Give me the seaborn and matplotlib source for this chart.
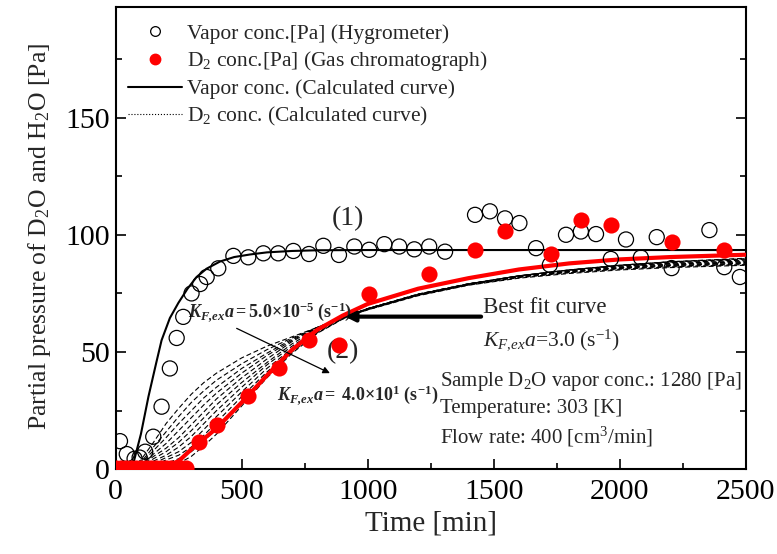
import matplotlib
matplotlib.use("Agg")
import matplotlib.pyplot as plt
from matplotlib.lines import Line2D
from matplotlib.ticker import MultipleLocator
import seaborn as sns

# Measured vapor concentration (hygrometer) [min], [Pa]
vapor_t = [17, 44, 75, 95, 117, 149, 182, 215, 242, 268, 301, 335, 361, 407, 467,
           526, 586, 645, 705, 767, 824, 886, 947, 1006, 1066, 1125, 1185, 1244,
           1307, 1426, 1485, 1545, 1602, 1668, 1723, 1787, 1846, 1906, 1965, 2025,
           2084, 2147, 2206, 2356, 2415, 2477]
vapor_p = [12, 6.5, 4.5, 5, 7.5, 13.9, 26.7, 43, 56, 65, 75, 79, 82, 85.7, 91,
           90.4, 92.1, 92.1, 93.1, 91.8, 95.3, 91.4, 95, 93.6, 96, 95, 93.8, 95,
           92.8, 108.5, 110, 107, 105, 94.3, 87.2, 100, 101.4, 100.3, 89.7, 98,
           90.3, 99, 85.8, 102, 86.2, 82]

# Measured D2 concentration (gas chromatograph) [min], [Pa]
d2_t = [0, 20, 40, 60, 80, 100, 120, 140, 160, 180, 200, 220, 240, 260, 280,
        332, 403, 526, 648, 768, 887, 1006, 1244, 1426, 1545, 1727, 1846, 1965,
        2206, 2415]
d2_p = [0.5, 0.5, 0.5, 0.5, 0.5, 0.5, 0.5, 0.5, 0.5, 0.5, 0.5, 0.5, 0.5, 0.5, 0.5,
        11.8, 18.9, 31.3, 43, 55.2, 53, 74.8, 83.3, 93.6, 101.7, 91.8, 106.4, 104,
        97.1, 93.6]

# Calculated vapor concentration
calc_vapor_t = [0, 60, 70, 100, 130, 160, 182, 215, 249, 285, 321, 360, 414, 470,
                533, 600, 700, 800, 1000, 2500]
calc_vapor_p = [0, 0, 2.5, 15, 31, 45, 55, 64.5, 71, 77, 82, 85.5, 88.6, 90.5,
                91.6, 92.5, 93.1, 93.4, 93.5, 93.5]

# Calculated D2 concentration curves, K_F,ex a from 5.0e-5 to 4.0e1 (s^-1)
calc_d2_t = [0, 50, 100, 150, 200, 250, 300, 350, 400, 500, 600, 700, 800, 900,
             1000, 1200, 1400, 1600, 1800, 2000, 2200, 2500]
d2_k01 = [0, 0, 4, 11.5, 19.5, 26, 32, 37, 41, 47.5, 52.5, 56.5, 60.5, 64.5, 68, 74, 78.5, 81.5, 83.5, 85, 86, 87]
d2_k02 = [0, 0, 3, 9.5, 16, 22.5, 28.5, 33.5, 38, 45, 51, 56, 60.5, 64.5, 68, 74.2, 78.6, 81.7, 83.8, 85.3, 86.3, 87.3]
d2_k03 = [0, 0, 2.5, 8, 13.5, 19.5, 25, 30.5, 35, 43, 49.5, 55.5, 60.5, 64.7, 68.2, 74.3, 78.7, 81.9, 84, 85.6, 86.6, 87.6]
d2_k04 = [0, 0, 2, 6.5, 11, 16.5, 22, 27.5, 32.5, 41, 48.5, 55, 60.5, 64.8, 68.3, 74.4, 78.8, 82, 84.2, 85.8, 86.9, 87.9]
d2_k05 = [0, 0, 1.5, 5.5, 9, 13.5, 19, 24.5, 30, 39, 47, 54.5, 60.3, 64.8, 68.4, 74.5, 78.9, 82.2, 84.4, 86, 87.2, 88.2]
d2_k06 = [0, 0, 1, 4.5, 7.5, 11.5, 16.5, 22, 27.5, 37, 45.5, 53.5, 60, 64.8, 68.5, 74.6, 79, 82.3, 84.6, 86.3, 87.5, 88.5]
d2_k07 = [0, 0, 0.8, 3.5, 6, 9.5, 14, 19.5, 25, 35, 44.5, 52.5, 59.5, 64.7, 68.5, 74.7, 79.1, 82.4, 84.8, 86.6, 87.8, 88.8]
d2_k08 = [0, 0, 0.5, 2.5, 5, 7.5, 11.5, 17, 22.5, 33, 43, 51.5, 59, 64.5, 68.5, 74.7, 79.1, 82.5, 85, 86.8, 88.1, 89.2]
d2_k09 = [0, 0, 0.3, 1.5, 4, 6, 9.5, 14.5, 20, 31, 41.5, 50.5, 58.5, 64.3, 68.5, 74.6, 79.1, 82.5, 85, 87, 88.4, 89.6]
d2_k10 = [0, 0, 0.2, 1, 2.5, 4.5, 7.5, 12, 17.5, 29, 40, 50, 58.2, 64.1, 68.5, 74.5, 79, 82.5, 85, 87, 88.5, 89.8]
d2_k11 = [0, 0, 0, 0.3, 1, 2.5, 5.5, 10, 15, 27, 39, 49.5, 58, 64, 68.5, 74.5, 79, 82.5, 85, 87, 88.5, 90]
# Best fit, K_F,ex a = 3.0 (s^-1)
d2_best = [0, 0, 0, 0, 1, 3.5, 8.5, 13, 17.5, 28.5, 40, 51, 59.5, 65.5, 70.5, 77, 81.5, 85.2, 87.8, 89.5, 90.5, 91.5]

d2_family = [d2_k01, d2_k02, d2_k03, d2_k04, d2_k05, d2_k06,
             d2_k07, d2_k08, d2_k09, d2_k10, d2_k11]

sns.set_theme(style="ticks")
serif = ["Liberation Serif", "DejaVu Serif"]
plt.rcParams["font.family"] = serif
plt.rcParams.update({
    "mathtext.fontset": "custom",
    "mathtext.rm": "Liberation Serif",
    "mathtext.it": "Liberation Serif:italic",
    "mathtext.bf": "Liberation Serif:bold",
    "mathtext.bfit": "Liberation Serif:italic:bold",
    "axes.linewidth": 1.5,
    "axes.edgecolor": "black",
})

fig = plt.figure(figsize=(7.77, 5.54), dpi=100)
ax = fig.add_axes([0.1489, 0.1529, 0.8108, 0.8339])

for vals in d2_family:
    sns.lineplot(x=calc_d2_t, y=vals, ax=ax, color="black", linewidth=0.8,
                 linestyle=(0, (4.5, 2.5)), errorbar=None, zorder=2)
sns.lineplot(x=calc_d2_t, y=d2_best, ax=ax, color="red", linewidth=3.0,
             errorbar=None, zorder=3)
sns.lineplot(x=calc_vapor_t, y=calc_vapor_p, ax=ax, color="black", linewidth=1.5,
             errorbar=None, zorder=3)

sns.scatterplot(x=vapor_t, y=vapor_p, ax=ax, marker="o", s=118,
                facecolor="none", edgecolor="black", linewidth=0.9, zorder=4)
sns.scatterplot(x=d2_t, y=d2_p, ax=ax, marker="o", s=135, color="red",
                linewidth=0, zorder=5)

ax.set_xlim(0, 2500)
ax.set_ylim(0, 197)
ax.xaxis.set_major_locator(MultipleLocator(500))
ax.xaxis.set_minor_locator(MultipleLocator(250))
ax.yaxis.set_major_locator(MultipleLocator(50))
ax.yaxis.set_minor_locator(MultipleLocator(25))
ax.tick_params(which="both", direction="in", top=False, right=True,
               left=True, bottom=True, width=1.2, colors="black")
ax.tick_params(which="major", length=7.2, labelsize=21.5)
ax.tick_params(axis="x", which="major", pad=7)
ax.tick_params(axis="y", which="major", pad=4)
ax.tick_params(which="minor", length=4)
for sp in ax.spines.values():
    sp.set_visible(True)
    sp.set_linewidth(1.5)
    sp.set_color("black")

ax.set_xlabel("Time [min]", fontsize=21)
ax.set_ylabel("Partial pressure of D$_2$O and H$_2$O [Pa]", fontsize=18.5)
ax.xaxis.set_label_coords(0.5, -0.09)
ax.yaxis.set_label_coords(-0.1, 0.505)

handles = [
    Line2D([], [], marker="o", linestyle="none", markerfacecolor="none",
           markeredgecolor="black", markersize=7, markeredgewidth=0.9),
    Line2D([], [], marker="o", linestyle="none", color="red", markersize=7.5),
    Line2D([], [], color="black", linewidth=1.5),
    Line2D([], [], color="black", linewidth=0.8, linestyle=":"),
]
labels = [
    "Vapor conc.[Pa] (Hygrometer)",
    "D$_2$ conc.[Pa] (Gas chromatograph)",
    "Vapor conc. (Calculated curve)",
    "D$_2$ conc. (Calculated curve)",
]
ax.legend(handles, labels, loc="upper left", bbox_to_anchor=(0.0195, 0.965),
          frameon=False, fontsize=15.5, handlelength=2.5, handletextpad=0.25,
          labelspacing=0.27, borderpad=0, borderaxespad=0)

ax.text(920, 107, "(1)", fontsize=20, ha="center", va="center")
ax.text(903, 50, "(2)", fontsize=20, ha="center", va="center")

ax.text(288, 67, r"$\mathbfit{K}_{\mathbfit{F{,}ex}}\mathbfit{a}\mathbf{=5.0{\times}10^{-5}\ (s^{-1})}$",
        fontsize=13, ha="left", va="center")
ax.text(639, 31.7, r"$\mathbfit{K}_{\mathbfit{F{,}ex}}\mathbfit{a}\mathbf{=\ 4.0{\times}10^{1}\ (s^{-1})}$",
        fontsize=13, ha="left", va="center")
ax.annotate("", xy=(850, 41), xytext=(480, 60.1),
            arrowprops=dict(arrowstyle="-|>", color="black", lw=0.9,
                            mutation_scale=10, shrinkA=0, shrinkB=0))

ax.annotate("", xy=(910, 65.1), xytext=(1450, 65.1),
            arrowprops=dict(arrowstyle="-|>", color="black", lw=3,
                            mutation_scale=14, shrinkA=0, shrinkB=0))
ax.text(1459, 68.8, "Best fit curve", fontsize=16.5, ha="left", va="center")
ax.text(1459, 55, r"$\mathit{K}_{\mathit{F{,}ex}}\mathit{a}$=3.0 (s$^{-1}$)",
        fontsize=15.5, ha="left", va="center")

ax.text(1287, 37.4, "Sample D$_2$O vapor conc.: 1280 [Pa]", fontsize=15,
        ha="left", va="center")
ax.text(1287, 26.1, "Temperature: 303 [K]", fontsize=15, ha="left", va="center")
ax.text(1287, 13.9, "Flow rate: 400 [cm$^3$/min]", fontsize=15, ha="left",
        va="center")

fig.savefig("out.png", dpi=100)
